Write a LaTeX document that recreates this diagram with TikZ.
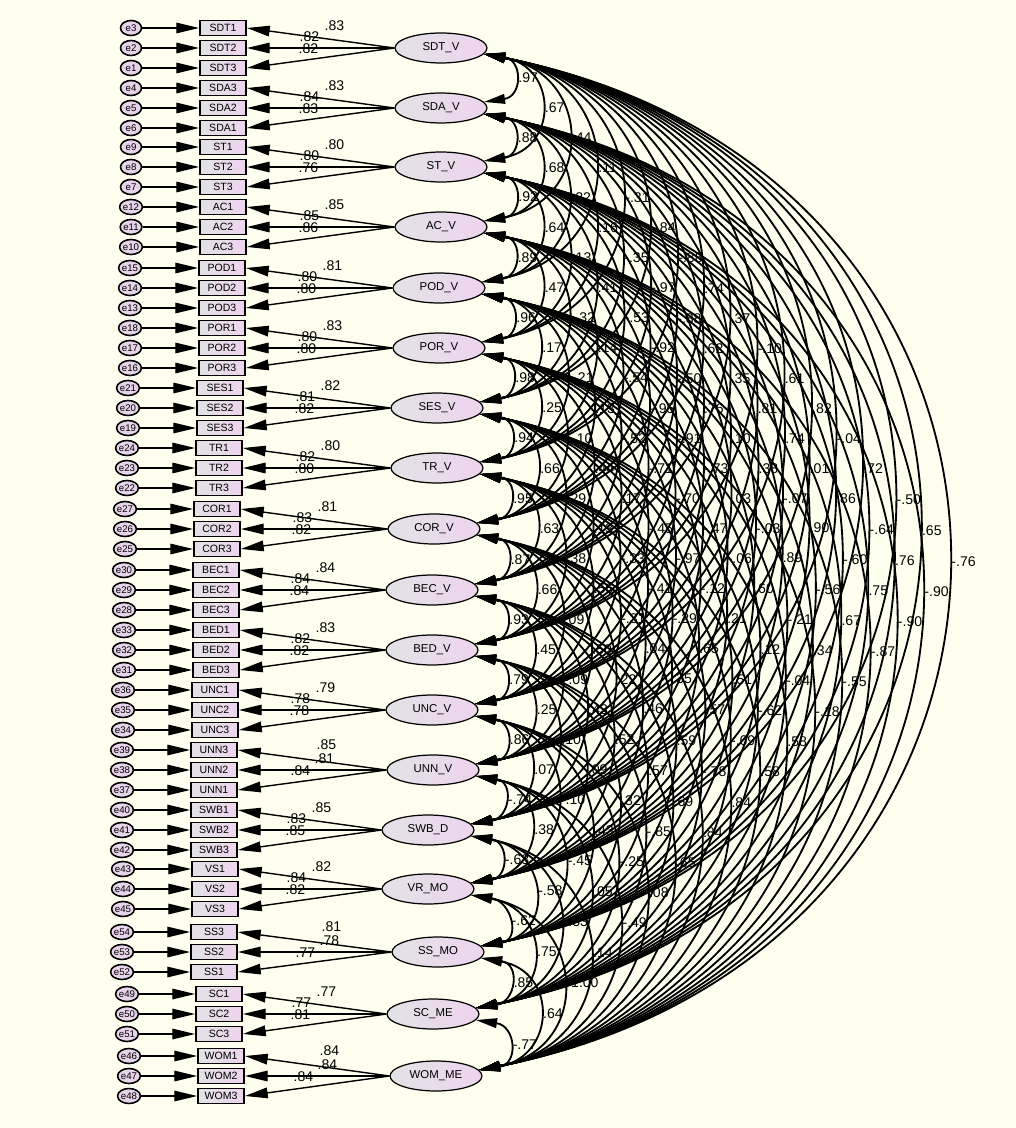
\documentclass[tikz,border=0pt]{standalone}
\usepackage{fontspec}
\setmainfont{Liberation Sans}
\usetikzlibrary{shapes.geometric,arrows.meta,calc}

\definecolor{paper}{RGB}{255,255,240}
\definecolor{shadegray}{RGB}{226,226,230}
\definecolor{shadepink}{RGB}{238,212,238}
\definecolor{errfill}{RGB}{232,212,234}

\tikzset{
  lat/.style={ellipse, draw, line width=0.7pt, minimum width=1.84cm, minimum height=0.6cm,
    inner sep=0pt, left color=shadegray, right color=shadepink, font=\fontsize{6.5}{7}\selectfont},
  ind/.style={rectangle, draw, line width=1pt, minimum width=0.92cm, minimum height=0.3cm,
    inner sep=0pt, left color=shadegray, right color=shadepink, font=\fontsize{6}{7}\selectfont},
  err/.style={ellipse, draw, line width=0.9pt, minimum width=0.42cm, minimum height=0.3cm,
    inner sep=0pt, fill=errfill, font=\fontsize{5.5}{5.5}\selectfont},
  lod/.style={line width=0.8pt, -{Triangle[length=13pt,width=6pt]}},
  cov/.style={line width=1.05pt, {Triangle[length=12pt,width=5.5pt]}-{Triangle[length=12pt,width=5.5pt]}},
  wlbl/.style={font=\fontsize{8}{8}\selectfont, inner sep=0pt},
  clbl/.style={font=\fontsize{8}{8}\selectfont, inner sep=1pt, anchor=west, xshift=1.5pt},
}

\begin{document}
\begin{tikzpicture}[x=0.02cm, y=-0.02cm]
  \fill[paper] (0,0) rectangle (1016,1128);
  \useasboundingbox (0,0) rectangle (1016,1128);

  % measurement part: latent, three indicators, three errors
  \foreach \k/\nm/\cx/\cy/\bx/\ia/\ib/\ic/\ea/\eb/\ec/\la/\lb/\lc/\qx/\qy in {
    0/SDT\_V/441/48/223/SDT1/SDT2/SDT3/e3/e2/e1/.83/.82/.82/-85/-22,
    1/SDA\_V/441/108/223/SDA3/SDA2/SDA1/e4/e5/e6/.83/.84/.83/-85/-22,
    2/ST\_V/441/167/223/ST1/ST2/ST3/e9/e8/e7/.80/.80/.76/-85/-22,
    3/AC\_V/441/227/223/AC1/AC2/AC3/e12/e11/e10/.85/.85/.86/-85/-22,
    4/POD\_V/439/288/222/POD1/POD2/POD3/e15/e14/e13/.81/.80/.80/-85/-22,
    5/POR\_V/439/348/222/POR1/POR2/POR3/e18/e17/e16/.83/.80/.80/-85/-22,
    6/SES\_V/437/408/220/SES1/SES2/SES3/e21/e20/e19/.82/.81/.82/-85/-22,
    7/TR\_V/437/468/219/TR1/TR2/TR3/e24/e23/e22/.80/.82/.80/-85/-22,
    8/COR\_V/434/529/217/COR1/COR2/COR3/e27/e26/e25/.81/.83/.82/-85/-22,
    9/BEC\_V/432/590/216/BEC1/BEC2/BEC3/e30/e29/e28/.84/.84/.84/-85/-22,
    10/BED\_V/432/650/216/BED1/BED2/BED3/e33/e32/e31/.83/.82/.82/-85/-22,
    11/UNC\_V/432/710/215/UNC1/UNC2/UNC3/e36/e35/e34/.79/.78/.78/-85/-22,
    12/UNN\_V/433/770/214/UNN3/UNN2/UNN1/e39/e38/e37/.85/.81/.84/-62/-25,
    13/SWB\_D/428/830/214/SWB1/SWB2/SWB3/e40/e41/e42/.85/.83/.85/-85/-22,
    14/VR\_MO/428/889/215/VS1/VS2/VS3/e43/e44/e45/.82/.84/.82/-85/-22,
    15/SS\_MO/438/952/214/SS3/SS2/SS1/e54/e53/e52/.81/.78/.77/-62/-25,
    16/SC\_ME/433/1014/219/SC1/SC2/SC3/e49/e50/e51/.77/.77/.81/-85/-22,
    17/WOM\_ME/436/1076/221/WOM1/WOM2/WOM3/e46/e47/e48/.84/.84/.84/-62/-25}{
    \node[lat] (L\k) at (\cx,\cy) {\nm};
    \node[ind] (B\k-1) at (\bx,\cy-20) {\ia};
    \node[ind] (B\k-2) at (\bx,\cy) {\ib};
    \node[ind] (B\k-3) at (\bx,\cy+20) {\ic};
    \node[err] (E\k-1) at (\bx-92,\cy-20) {\ea};
    \node[err] (E\k-2) at (\bx-92,\cy) {\eb};
    \node[err] (E\k-3) at (\bx-92,\cy+20) {\ec};
    \foreach \r in {1,2,3}{
      \draw[lod] (E\k-\r) -- (B\k-\r);
      \draw[lod] (L\k.west) -- (B\k-\r.east);
    }
    \node[wlbl] (W\k-1) at ($(L\k.west)+(-60,\qy)$) {\la};
    \node[wlbl] (W\k-2) at ($(L\k.west)+(\qx,-11)$) {\lb};
    \node[wlbl] (W\k-3) at ($(L\k.west)+(-86,1)$) {\lc};
  }

  % covariances between the latents
  \foreach \i/\j/\v in {
    0/1/.97, 0/2/.67, 1/2/.88, 0/3/.44, 1/3/.68, 0/4/.11,
    2/3/.92, 1/4/.22, 0/5/-.31, 2/4/.64, 1/5/.16, 0/6/-.84,
    3/4/.89, 2/5/.13, 1/6/-.35, 0/7/-.88, 3/5/.47, 2/6/.41, 1/7/-.97, 0/8/.74,
    4/5/.96, 3/6/-.32, 2/7/-.53, 1/8/-.88, 0/9/.37,
    4/6/.17, 3/7/.14, 2/8/-.92, 1/9/.62, 0/10/-.10,
    5/6/.98, 4/7/-.21, 3/8/-.54, 2/9/-.50, 1/10/.35, 0/11/.61,
    5/7/.25, 4/8/.13, 3/9/-.95, 2/10/.76, 1/11/.81, 0/12/.82,
    6/7/.94, 5/8/-.10, 4/9/-.52, 3/10/-.91, 2/11/.10, 1/12/.74, 0/13/-.04,
    6/8/.66, 5/9/.44, 4/10/-.71, 3/11/-.73, 2/12/.38, 1/13/.01, 0/14/.72,
    7/8/.95, 6/9/.29, 5/10/.17, 4/11/-.70, 3/12/.03, 2/13/-.07, 1/14/.86, 0/15/-.50,
    7/9/.63, 6/10/.13, 5/11/-.45, 4/12/-.47, 3/13/-.03, 2/14/.90, 1/15/-.64, 0/16/.65,
    8/9/.87, 7/10/.38, 6/11/-.33, 5/12/-.97, 4/13/-.06, 3/14/.89, 2/15/-.60, 1/16/.76, 0/17/-.76,
    8/10/.66, 7/11/.56, 6/12/-.41, 5/13/-.12, 4/14/.60, 3/15/-.56, 2/16/.75, 1/17/-.90,
    9/10/.93, 8/11/.09, 7/12/-.31, 6/13/-.29, 5/14/.21, 4/15/-.21, 3/16/.67, 2/17/-.90,
    9/11/.45, 8/12/.50, 7/13/.04, 6/14/.65, 5/15/.12, 4/16/.34, 3/17/-.87,
    10/11/.79, 9/12/-.09, 8/13/.22, 7/14/.35, 6/15/.51, 5/16/-.04, 4/17/-.55,
    10/12/.25, 9/13/.43, 8/14/.46, 7/15/.57, 6/16/-.62, 5/17/-.18,
    11/12/.86, 10/13/.10, 9/14/.52, 8/15/.59, 7/16/-.69, 6/17/.58,
    11/13/.07, 10/14/.09, 9/15/.57, 8/16/-.78, 7/17/.58,
    12/13/-.74, 11/14/-.10, 10/15/.32, 9/16/.69, 8/17/.84,
    12/14/.38, 11/15/.43, 10/16/-.85, 9/17/.84,
    13/14/-.63, 12/15/-.45, 11/16/-.25, 10/17/.65,
    13/15/-.58, 12/16/.05, 11/17/.08,
    14/15/-.62, 13/16/-.33, 12/17/-.49,
    14/16/.75, 13/17/.14, 15/16/.85, 14/17/-1.00,
    15/17/.64, 16/17/-.77}{
    \draw[cov] let \p1=(L\i.-8), \p2=(L\j.8), \n1={\y1-\y2} in
      (\p1) .. controls +(0.6*\n1+5.7pt,-0.12*\n1) and +(0.6*\n1+5.7pt,0.12*\n1) .. (\p2)
      node[clbl, pos=.5] (C\i-\j) {\v};
  }
\end{tikzpicture}
\end{document}
